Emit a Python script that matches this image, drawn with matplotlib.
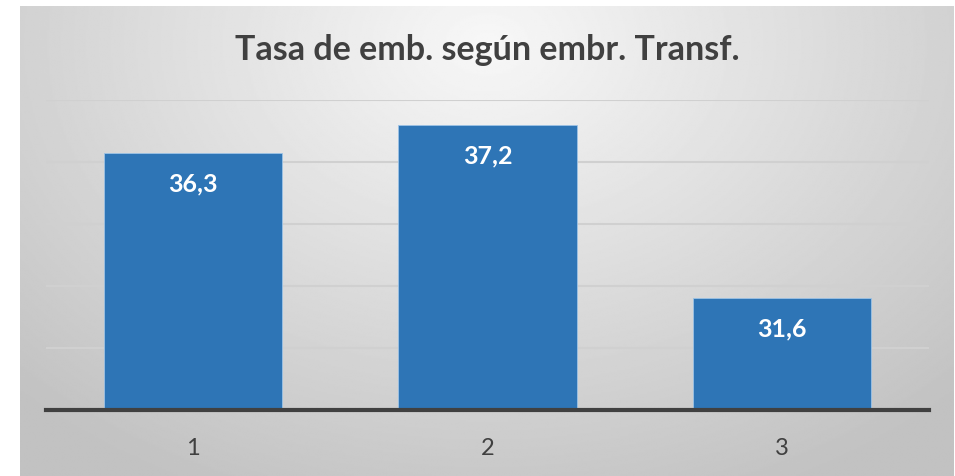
import numpy as np
import matplotlib.pyplot as plt

categories = ["1", "2", "3"]
values = [36.3, 37.2, 31.6]
value_labels = ["36,3", "37,2", "31,6"]
title = "Tasa de emb. según embr. Transf."

W, H, DPI = 955, 476, 100
plt.rcParams["font.family"] = ["Lato", "DejaVu Sans"]

fig = plt.figure(figsize=(W / DPI, H / DPI), dpi=DPI)
fig.patch.set_facecolor("white")

# gray panel with a soft radial gradient, light near the top centre
bg = fig.add_axes([20 / W, 0, 933 / W, 470 / H])
bg.set_axis_off()
yy, xx = np.mgrid[0:1:300j, 0:1:600j]
r = np.sqrt(((xx - 0.5) / 0.75) ** 2 + ((yy - 0.92) / 1.1) ** 2)
shade = np.clip(0.97 - 0.22 * r, 0.76, 0.97)
bg.imshow(shade, cmap="gray", vmin=0, vmax=1, origin="lower",
          extent=[0, 1, 0, 1], aspect="auto", interpolation="bilinear")
bg.set_xlim(0, 1)
bg.set_ylim(0, 1)

ax = fig.add_axes([46 / W, 66 / H, 883 / W, 310 / H])
ax.patch.set_alpha(0)
x = np.arange(len(categories))
bars = ax.bar(x, values, width=0.605, color="#2E75B6",
              edgecolor="#9DC3E6", linewidth=0.6, zorder=3)
ax.set_xlim(-0.5, len(categories) - 0.5)
ax.set_ylim(28, 38)
ax.set_yticks(np.arange(30, 39, 2))
ax.yaxis.grid(True, color="#d0d0d0", linewidth=1.5, zorder=0)
ax.tick_params(axis="y", left=False, labelleft=False)
ax.set_xticks(x)
ax.set_xticklabels(categories, fontsize=17, color="#404040")
ax.tick_params(axis="x", length=0, pad=20)
for side in ["top", "right", "left"]:
    ax.spines[side].set_visible(False)
ax.spines["bottom"].set_color("#404040")
ax.spines["bottom"].set_linewidth(3)
ax.spines["bottom"].set_zorder(4)

for b, lab in zip(bars, value_labels):
    ax.annotate(lab, (b.get_x() + b.get_width() / 2, b.get_height()),
                xytext=(0, -31), textcoords="offset pixels",
                ha="center", va="center", color="white",
                fontsize=18, fontweight="bold", zorder=5)

fig.text(487 / W, 1 - 50 / H, title, ha="center", va="center",
         fontsize=24.5, fontweight="bold", color="#404040")

fig.savefig("out.png", dpi=DPI)
